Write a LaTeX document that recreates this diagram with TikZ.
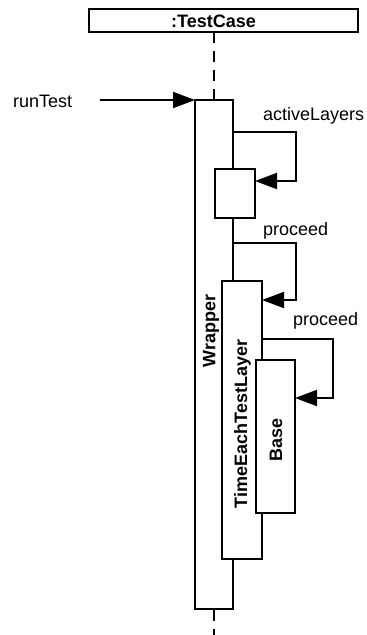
\documentclass[tikz,border=0pt]{standalone}
\usepackage{fontspec}
\setmainfont{Liberation Sans}
\usetikzlibrary{arrows.meta}

\tikzset{
  box/.style={draw, line width=2pt, fill=white, inner sep=0pt, outer sep=0pt},
  lbl/.style={inner sep=0pt, font=\fontsize{18}{20}\selectfont},
  blbl/.style={inner sep=0pt, font=\fontsize{18}{20}\selectfont\bfseries, rotate=90},
  msg/.style={line width=2pt, -{Triangle[length=22pt,width=16pt]}},
  life/.style={line width=2pt, dash pattern=on 11pt off 8pt},
}

\begin{document}
\begin{tikzpicture}[x=1pt, y=-1pt]
  \useasboundingbox (0,0) rectangle (367,635);

  % object header
  \node[box, minimum width=269pt, minimum height=23pt] (obj) at (223.5,20.5) {};
  \node[lbl, font=\fontsize{18}{20}\selectfont\bfseries, anchor=base west] (objname) at (171,27) {:TestCase};

  % lifeline coordinates
  \coordinate (lifetop) at (214,32);
  \coordinate (lifebot) at (214,635);

  % activation bars
  \node[box, minimum width=38pt, minimum height=509pt] (wrapper) at (214,354.5) {};
  \draw[life] (lifetop) -- (wrapper.north);
  \draw[life] ([yshift=-1pt]wrapper.south) -- (lifebot);

  % incoming call
  \node[lbl, anchor=base west] (runtest) at (13,107) {runTest};
  \coordinate (rtstart) at (100,100);
  \draw[msg] (rtstart) -- (wrapper.north west);

  % activeLayers self call
  \coordinate (al0) at (233,132);
  \coordinate (al1) at (296,132);
  \node[box, minimum width=40pt, minimum height=49pt] (small) at (235,193.5) {};
  \draw[msg] (al0) -- (al1) |- ([yshift=12.5pt]small.east);
  \node[lbl, anchor=base west] (allbl) at (263,120) {activeLayers};

  % proceed into TimeEachTestLayer
  \coordinate (p0) at (233,243);
  \coordinate (p1) at (296,243);
  \node[box, minimum width=40pt, minimum height=278pt] (tetl) at (242,420) {};
  \draw[msg] (p0) -- (p1) |- ([yshift=-19pt]tetl.north east);
  \node[lbl, anchor=base west] (plbl1) at (263,235) {proceed};

  % proceed into Base
  \coordinate (q1) at (333,339);
  \node[box, minimum width=39pt, minimum height=153pt] (base) at (275.5,436.5) {};
  \draw[msg] ([yshift=-58pt]tetl.north east) -- (q1) |- ([yshift=-38pt]base.north east);
  \node[lbl, anchor=base west] (plbl2) at (293,325) {proceed};

  % bar captions
  \node[blbl] (wlbl) at (211,331) {Wrapper};
  \node[blbl] (tlbl) at (242.5,424) {TimeEachTestLayer};
  \node[blbl] (blbl) at (276,439.5) {Base};
\end{tikzpicture}
\end{document}
